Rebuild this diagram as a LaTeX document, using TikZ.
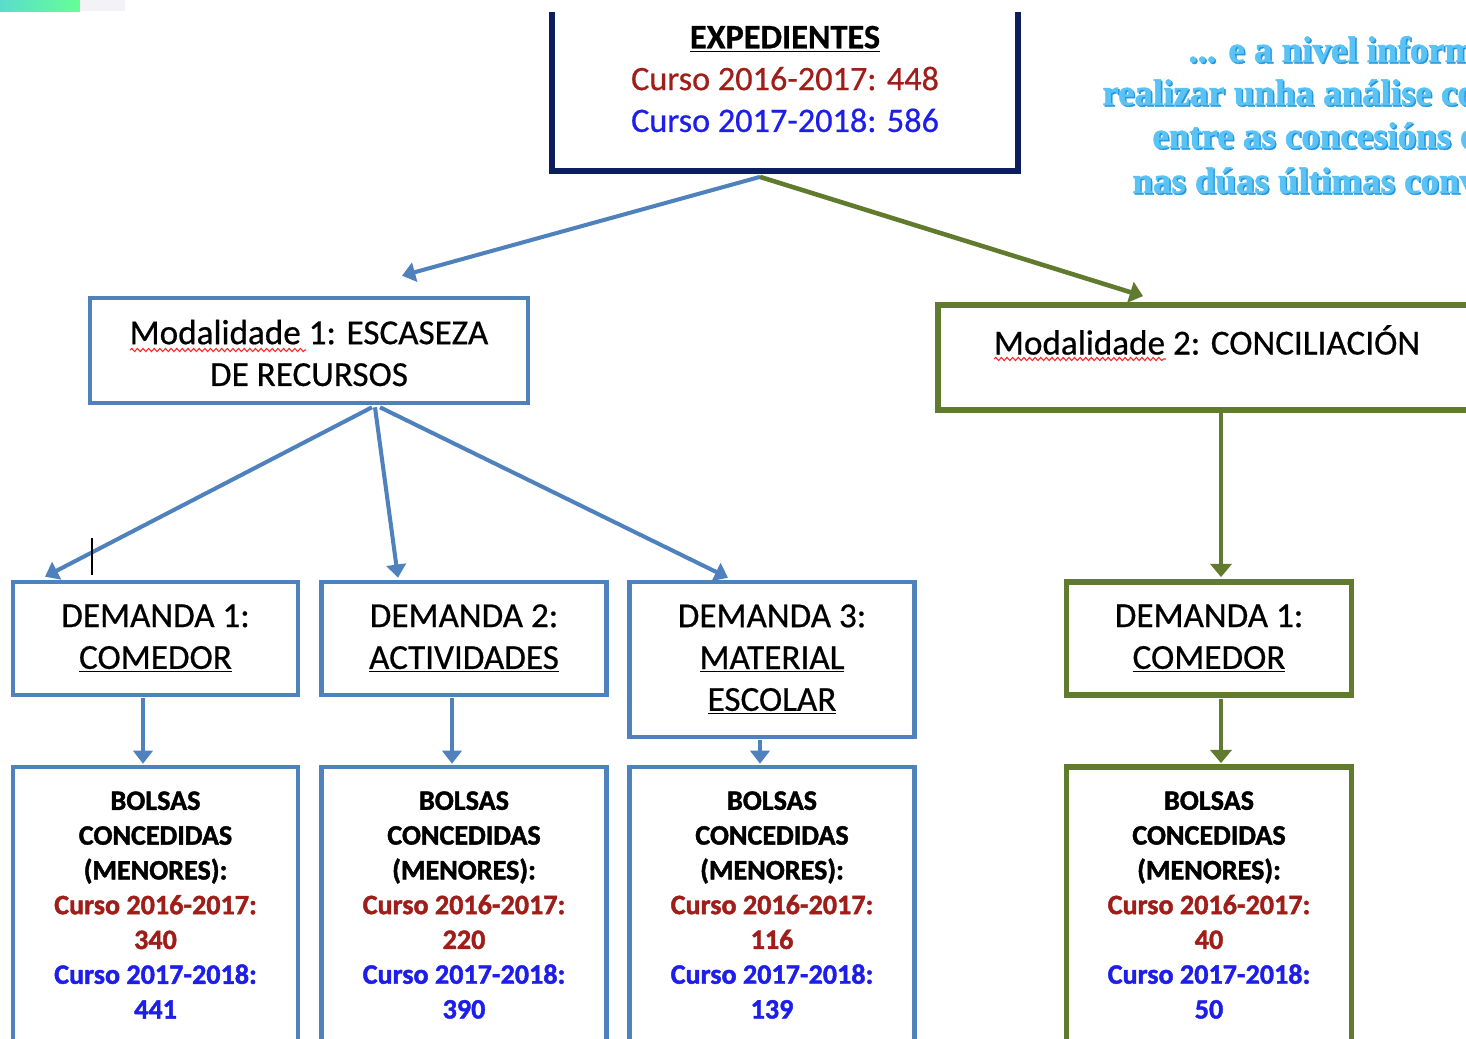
\documentclass[tikz,border=0pt]{standalone}
\usepackage{fontspec}
\setmainfont{Carlito}[FakeBold=1.5]
\newfontfamily\heavy{Carlito}[FakeBold=0.6]
\newfontfamily\notefont{Liberation Serif}[FakeBold=1.2]
\usetikzlibrary{arrows.meta,calc,decorations.pathmorphing}
\definecolor{navy}{RGB}{12,30,92}
\definecolor{boxblue}{RGB}{79,129,189}
\definecolor{boxgreen}{RGB}{96,122,46}
\definecolor{darkred}{RGB}{160,30,25}
\definecolor{cursoblue}{RGB}{30,30,235}
\definecolor{skyblue}{RGB}{90,195,245}
\definecolor{skyshadow}{RGB}{40,150,225}
\definecolor{stripA}{RGB}{90,220,205}
\definecolor{stripB}{RGB}{100,255,150}
\definecolor{stripC}{RGB}{243,243,247}
\begin{document}
\begin{tikzpicture}[x=0.02cm,y=-0.02cm,
  navybox/.style={draw=navy,line width=3.3pt,fill=white,rectangle,inner sep=0pt},
  bluebox/.style={draw=boxblue,line width=2.6pt,fill=white,rectangle,inner sep=0pt,align=center,
    font=\heavy\fontsize{20}{23.8}\selectfont},
  greenbox/.style={draw=boxgreen,line width=3.3pt,fill=white,rectangle,inner sep=0pt,align=center,
    font=\heavy\fontsize{20}{23.8}\selectfont},
  bigtext/.style={align=center,inner sep=0pt,font=\heavy\fontsize{19.5}{23.8}\selectfont},
  smalltext/.style={align=center,inner sep=0pt,font=\bfseries\fontsize{16}{19.8}\selectfont},
  bluearrow/.style={draw=boxblue,line width=2.3pt,-{Triangle[length=7.5pt,width=11pt]}},
  greenarrow/.style={draw=boxgreen,line width=2.6pt,-{Triangle[length=7.5pt,width=12pt]}},
  wavy/.style={draw=red!85!white,line width=0.6pt,decorate,decoration={snake,amplitude=0.9pt,segment length=3.2pt}},
  note/.style={anchor=base west,inner sep=0pt,font=\notefont\bfseries\fontsize{21}{25}\selectfont},
]
\useasboundingbox (0,0) rectangle (1466,1038);
% top-left strip
\shade[left color=stripA,right color=stripB] (0,0) rectangle (80,11);
\fill[stripC] (80,0) rectangle (125,11);

% boxes
\begin{scope}
\clip (0,12) rectangle (1466,1038);
\node[navybox,minimum width=9.32cm,minimum height=3.82cm] (exp) at (785,75.5) {};
\end{scope}
\node[bluebox,minimum width=8.76cm,minimum height=2.10cm] (m1) at (309,350.5) {};
\node[greenbox,minimum width=11.04cm,minimum height=2.10cm] (m2) at (1214,357.5) {};

\node[bluebox,minimum width=5.70cm,minimum height=2.26cm] (d1) at (155.5,638.5) {DEMANDA 1:\\\underline{COMEDOR}};
\node[bluebox,minimum width=5.70cm,minimum height=2.26cm] (d2) at (464,638.5) {DEMANDA 2:\\\underline{ACTIVIDADES}};
\node[bluebox,minimum width=5.70cm,minimum height=3.10cm] (d3) at (772,659.5) {DEMANDA 3:\\\underline{MATERIAL}\\\underline{ESCOLAR}};
\node[greenbox,minimum width=5.70cm,minimum height=2.26cm] (g1) at (1209,638.5) {DEMANDA 1:\\\underline{COMEDOR}};

\node[bluebox,minimum width=5.70cm,minimum height=5.86cm] (b1) at (155.5,913.5) {};
\node[bluebox,minimum width=5.70cm,minimum height=5.86cm] (b2) at (464,913.5) {};
\node[bluebox,minimum width=5.70cm,minimum height=5.86cm] (b3) at (772,913.5) {};
\node[greenbox,minimum width=5.70cm,minimum height=5.86cm] (b4) at (1209,913.5) {};

% texts
\node[bigtext] (texp) at (785,79) {\textbf{\underline{EXPEDIENTES}}\\\textcolor{darkred}{Curso 2016-2017: 448}\\\textcolor{cursoblue}{Curso 2017-2018: 586}};
\node[bigtext,font=\heavy\fontsize{20}{23.8}\selectfont] (tm1) at (309,353) {Modalidade 1: ESCASEZA\\DE RECURSOS};
\node[bigtext,font=\heavy\fontsize{20}{23.8}\selectfont] (tm2) at (1207,340) {Modalidade 2: CONCILIACIÓN};
\draw[wavy] (130,350) -- (306,350);
\draw[wavy] (994,359) -- (1166,359);

\node[smalltext] (tb1) at (155.5,905) {BOLSAS\\CONCEDIDAS\\(MENORES):\\\textcolor{darkred}{Curso 2016-2017:}\\\textcolor{darkred}{340}\\\textcolor{cursoblue}{Curso 2017-2018:}\\\textcolor{cursoblue}{441}};
\node[smalltext] (tb2) at (464,905) {BOLSAS\\CONCEDIDAS\\(MENORES):\\\textcolor{darkred}{Curso 2016-2017:}\\\textcolor{darkred}{220}\\\textcolor{cursoblue}{Curso 2017-2018:}\\\textcolor{cursoblue}{390}};
\node[smalltext] (tb3) at (772,905) {BOLSAS\\CONCEDIDAS\\(MENORES):\\\textcolor{darkred}{Curso 2016-2017:}\\\textcolor{darkred}{116}\\\textcolor{cursoblue}{Curso 2017-2018:}\\\textcolor{cursoblue}{139}};
\node[smalltext] (tb4) at (1209,905) {BOLSAS\\CONCEDIDAS\\(MENORES):\\\textcolor{darkred}{Curso 2016-2017:}\\\textcolor{darkred}{40}\\\textcolor{cursoblue}{Curso 2017-2018:}\\\textcolor{cursoblue}{50}};

% connectors
\draw[bluearrow] ($(exp.south)+(-25,3)$) -- ($(m1.north)+(93,-20)$);
\draw[greenarrow] ($(exp.south)+(-25,3)$) -- ($(m2.north)+(-71,-6)$);
\draw[bluearrow] ($(m1.south)+(63,2)$) -- ($(d1.north)+(-110.5,-3)$);
\draw[bluearrow] ($(m1.south)+(66,2)$) -- ($(d2.north)+(-66,-2)$);
\draw[bluearrow] ($(m1.south)+(71,2)$) -- ($(d3.north)+(-44,-2)$);
\draw[greenarrow] ($(m2.south)+(7,-3)$) -- ($(g1.north)+(12,-2)$);
\draw[bluearrow] ($(d1.south)+(-12.5,1)$) -- ($(b1.north)+(-12.5,-1)$);
\draw[bluearrow] ($(d2.south)+(-12,1)$) -- ($(b2.north)+(-12,-1)$);
\draw[bluearrow] ($(d3.south)+(-12,1)$) -- ($(b3.north)+(-12,-1)$);
\draw[greenarrow] ($(g1.south)+(12,1)$) -- ($(b4.north)+(12,-1)$);

% text cursor
\draw[black,line width=1.6pt] (92,538) -- (92,575);

% note (clipped at right edge, as in the reference)
\begin{scope}
\clip (1080,20) rectangle (1466,210);
\foreach \dx/\dy/\col in {1.5/1.5/skyshadow,0/0/skyblue}{
\node[note,text=\col] at (1188+\dx,62+\dy) {... e a nivel informativo};
\node[note,text=\col] at (1102+\dx,105+\dy) {realizar unha análise comparativa};
\node[note,text=\col] at (1152+\dx,148+\dy) {entre as concesións e};
\node[note,text=\col] at (1132+\dx,193+\dy) {nas dúas últimas convocatorias};
}
\end{scope}
\end{tikzpicture}
\end{document}
